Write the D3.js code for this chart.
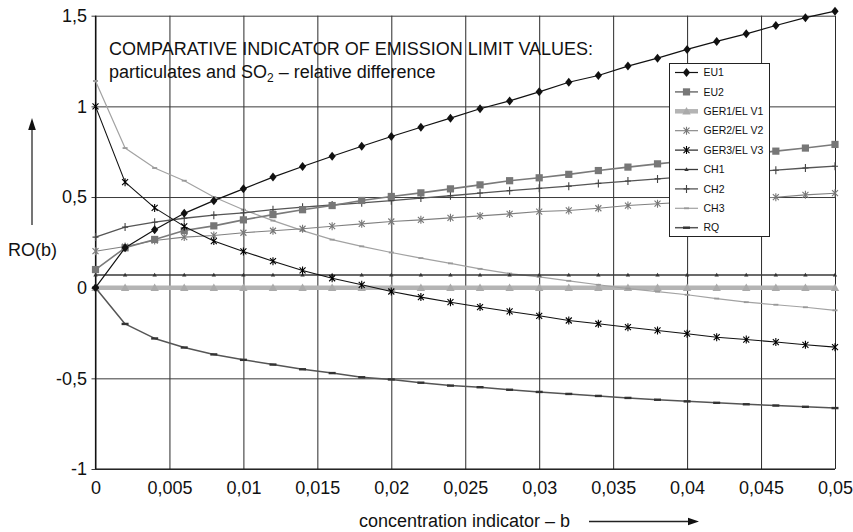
<!DOCTYPE html>
<html><head><meta charset="utf-8">
<script src="https://cdn.jsdelivr.net/npm/d3@7"></script>
<style>
html,body{margin:0;padding:0;background:#fff;}
svg{display:block;font-family:"Liberation Sans",Arial,Helvetica,sans-serif;}
</style></head>
<body><svg id="chart" width="853" height="532"></svg>
<script>
// ---------------- data ----------------
const xValues = [0, 0.002, 0.004, 0.006, 0.008, 0.010, 0.012, 0.014, 0.016, 0.018, 0.020, 0.022, 0.024,
                 0.026, 0.028, 0.030, 0.032, 0.034, 0.036, 0.038, 0.040, 0.042, 0.044, 0.046, 0.048, 0.050];
const EU1  = [0, 0.22, 0.32, 0.41, 0.48, 0.545, 0.61, 0.668, 0.725, 0.78, 0.834, 0.885, 0.935, 0.987, 1.03, 1.08,
              1.133, 1.17, 1.222, 1.266, 1.314, 1.358, 1.40, 1.446, 1.489, 1.525];
const EU2  = [0.10, 0.22, 0.266, 0.315, 0.341, 0.374, 0.403, 0.43, 0.453, 0.481, 0.503, 0.523, 0.545, 0.567, 0.59,
              0.606, 0.625, 0.646, 0.665, 0.683, 0.70, 0.718, 0.735, 0.753, 0.77, 0.79];
const GER1 = [0, 0, 0, 0, 0, 0, 0, 0, 0, 0, 0, 0, 0, 0, 0, 0, 0, 0, 0, 0, 0, 0, 0, 0, 0, 0];
const GER2 = [0.201, 0.227, 0.26, 0.279, 0.288, 0.303, 0.314, 0.325, 0.339, 0.352, 0.365, 0.374, 0.385, 0.396,
              0.407, 0.42, 0.426, 0.438, 0.453, 0.463, 0.472, 0.481, 0.49, 0.499, 0.512, 0.521];
const GER3 = [1.0, 0.582, 0.44, 0.338, 0.257, 0.20, 0.146, 0.095, 0.052, 0.016, -0.021, -0.052, -0.08, -0.107,
              -0.131, -0.155, -0.181, -0.199, -0.218, -0.236, -0.254, -0.273, -0.286, -0.30, -0.315, -0.328];
const CH1  = [0.07, 0.07, 0.07, 0.07, 0.07, 0.07, 0.07, 0.07, 0.07, 0.07, 0.07, 0.07, 0.07, 0.07, 0.07, 0.07,
              0.07, 0.07, 0.07, 0.07, 0.07, 0.07, 0.07, 0.07, 0.07, 0.07];
const CH2  = [0.279, 0.334, 0.361, 0.383, 0.40, 0.413, 0.43, 0.444, 0.456, 0.468, 0.48, 0.494, 0.507, 0.522,
              0.535, 0.548, 0.56, 0.575, 0.588, 0.60, 0.612, 0.624, 0.636, 0.648, 0.66, 0.67];
const CH3  = [1.14, 0.77, 0.66, 0.59, 0.50, 0.43, 0.37, 0.315, 0.265, 0.228, 0.194, 0.163, 0.134, 0.104, 0.078,
              0.06, 0.038, 0.016, -0.005, -0.022, -0.039, -0.06, -0.08, -0.094, -0.108, -0.125];
const RQ   = [0, -0.2, -0.28, -0.33, -0.368, -0.398, -0.424, -0.45, -0.471, -0.494, -0.506, -0.524, -0.54, -0.549,
              -0.563, -0.575, -0.586, -0.597, -0.608, -0.618, -0.627, -0.635, -0.643, -0.65, -0.657, -0.664];
const seriesNames = ["EU1", "EU2", "GER1/EL V1", "GER2/EL V2", "GER3/EL V3", "CH1", "CH2", "CH3", "RQ"];
const xTicks = [0, 0.005, 0.01, 0.015, 0.02, 0.025, 0.03, 0.035, 0.04, 0.045, 0.05];
const xTickLabels = ["0", "0,005", "0,01", "0,015", "0,02", "0,025", "0,03", "0,035", "0,04", "0,045", "0,05"];
const yTicks = [-1, -0.5, 0, 0.5, 1, 1.5];
const yTickLabels = ["-1", "-0,5", "0", "0,5", "1", "1,5"];
const titleLine1 = "COMPARATIVE INDICATOR OF EMISSION LIMIT VALUES:";
const xTitle = "concentration indicator – b";
const yTitle = "RO(b)";

// ---------------- styles ----------------
const styles = {
  "EU1":        {color:"#111", width:1.2, marker:"diamond", mcolor:"#111"},
  "EU2":        {color:"#7a7a7a", width:1.6, marker:"square", mcolor:"#777"},
  "GER1/EL V1": {color:"#b4b4b4", width:4.5, marker:"triangle", mcolor:"#aaa"},
  "GER2/EL V2": {color:"#808080", width:1.1, marker:"star", mcolor:"#777"},
  "GER3/EL V3": {color:"#111", width:1.1, marker:"star", mcolor:"#000"},
  "CH1":        {color:"#3a3a3a", width:1.3, marker:"smalltri", mcolor:"#333"},
  "CH2":        {color:"#555", width:1.3, marker:"plus", mcolor:"#444"},
  "CH3":        {color:"#a2a2a2", width:1.2, marker:"dash", mcolor:"#999"},
  "RQ":         {color:"#555", width:1.5, marker:"bar", mcolor:"#333"}
};
const seriesData = [EU1, EU2, GER1, GER2, GER3, CH1, CH2, CH3, RQ];

const svg = d3.select("#chart");
const x = d3.scaleLinear().domain([0, 0.05]).range([95.5, 835]);
const y = d3.scaleLinear().domain([-1, 1.5]).range([469, 15.7]);
const plotW = x.range()[1] - x.range()[0];
const plotH = y.range()[0] - y.range()[1];

// gridlines
const gx = svg.append("g").attr("transform", `translate(0,${y.range()[1]})`)
  .call(d3.axisBottom(x).tickValues(xTicks).tickSize(plotH).tickFormat(""));
gx.select(".domain").remove();
gx.selectAll("line").attr("stroke", "#2a2a2a").attr("stroke-width", 1);

const gy = svg.append("g").attr("transform", `translate(${x.range()[1]},0)`)
  .call(d3.axisLeft(y).tickValues(yTicks).tickSize(plotW + 4).tickFormat(""));
gy.select(".domain").remove();
gy.selectAll("line").attr("stroke", "#3a3a3a").attr("stroke-width", 1);

// frame
svg.append("line").attr("x1", x.range()[0]).attr("x2", x.range()[0]).attr("y1", y.range()[1]).attr("y2", y.range()[0])
  .attr("stroke", "#111").attr("stroke-width", 1.2);
svg.append("line").attr("x1", x.range()[0]).attr("x2", x.range()[1]).attr("y1", y.range()[0]).attr("y2", y.range()[0])
  .attr("stroke", "#111").attr("stroke-width", 1.2);

// tick labels
const ax = svg.append("g").attr("transform", `translate(0,${y.range()[0]})`)
  .call(d3.axisBottom(x).tickValues(xTicks).tickSize(0).tickPadding(12).tickFormat((d, i) => xTickLabels[i]));
ax.select(".domain").remove();
ax.selectAll("text").attr("font-size", 18).attr("fill", "#111").attr("font-family", "Liberation Sans, Arial, sans-serif");

const ay = svg.append("g").attr("transform", `translate(${x.range()[0]},0)`)
  .call(d3.axisLeft(y).tickValues(yTicks).tickSize(0).tickPadding(8.5).tickFormat((d, i) => yTickLabels[i]));
ay.select(".domain").remove();
ay.selectAll("text").attr("font-size", 18).attr("fill", "#111").attr("font-family", "Liberation Sans, Arial, sans-serif");

// markers
function markerPath(type) {
  switch (type) {
    case "diamond":  return "M0,-4.5L3.6,0L0,4.5L-3.6,0Z";
    case "square":   return "M-3.6,-3.6H3.6V3.6H-3.6Z";
    case "triangle": return "M0,-4.2L4.2,3.2H-4.2Z";
    case "star":     return "M-3,-3L3,3M-3,3L3,-3M0,-4V4";
    case "smalltri": return "M0,-2.2L2.2,1.6H-2.2Z";
    case "plus":     return "M0,-4V4M-3,0H3";
    case "dash":     return "M-2.5,0H2.5";
    case "bar":      return "M-3.5,0H3.5";
  }
}
const filled = {diamond:true, square:true, triangle:true, smalltri:true};
function drawMarker(g, type, color) {
  const p = g.append("path").attr("d", markerPath(type));
  if (filled[type]) p.attr("fill", color).attr("stroke", "none");
  else p.attr("fill", "none").attr("stroke", color).attr("stroke-width", type === "bar" ? 2.4 : (type === "dash" ? 1.8 : 1.1));
}

const line = d3.line().x(d => x(d[0])).y(d => y(d[1]));
// draw order: GER1 first (thick underlay), then others
const order = [2, 7, 5, 6, 3, 1, 8, 4, 0];
order.forEach(k => {
  const name = seriesNames[k];
  const st = styles[name];
  const pts = xValues.map((xv, i) => [xv, seriesData[k][i]]);
  const g = svg.append("g").attr("class", "series");
  g.append("path").attr("d", line(pts)).attr("fill", "none").attr("stroke", st.color)
    .attr("stroke-width", st.width).attr("stroke-linejoin", "round");
  pts.forEach(p => {
    const mg = g.append("g").attr("transform", `translate(${x(p[0])},${y(p[1])})`);
    drawMarker(mg, st.marker, st.mcolor);
  });
});

// title
const tg = svg.append("g").attr("font-size", 18).attr("fill", "#111");
tg.append("text").attr("x", 109).attr("y", 55).text(titleLine1);
const t2 = tg.append("text").attr("x", 109).attr("y", 78);
t2.append("tspan").text("particulates and SO");
t2.append("tspan").attr("font-size", 12).attr("dy", 4).text("2");
t2.append("tspan").attr("dy", -4).text(" – relative difference");

// legend
const lg = svg.append("g");
lg.append("rect").attr("x", 669.5).attr("y", 63.5).attr("width", 100).attr("height", 173)
  .attr("fill", "#fff").attr("stroke", "#222").attr("stroke-width", 1);
seriesNames.forEach((name, i) => {
  const st = styles[name];
  const cy = 72.5 + i * 19.4;
  lg.append("line").attr("x1", 675).attr("x2", 698).attr("y1", cy).attr("y2", cy)
    .attr("stroke", st.color).attr("stroke-width", st.width);
  drawMarker(lg.append("g").attr("transform", `translate(686.5,${cy})`), st.marker, st.mcolor);
  lg.append("text").attr("x", 703.5).attr("y", cy).attr("dy", "0.36em").attr("font-size", 10.5)
    .attr("fill", "#111").text(name);
});

// axis titles with arrows
svg.append("text").attr("x", 359).attr("y", 527).attr("font-size", 18).attr("fill", "#111").text(xTitle);
svg.append("line").attr("x1", 589).attr("x2", 690).attr("y1", 521.5).attr("y2", 521.5).attr("stroke", "#222").attr("stroke-width", 1.3);
svg.append("path").attr("d", "M699,521.5L688,517.8L688,525.2Z").attr("fill", "#111");

svg.append("text").attr("x", 8).attr("y", 256).attr("font-size", 18).attr("fill", "#111").text(yTitle);
svg.append("line").attr("x1", 32).attr("x2", 32).attr("y1", 225).attr("y2", 128).attr("stroke", "#666").attr("stroke-width", 1.8);
svg.append("path").attr("d", "M32,118L28.2,130L35.8,130Z").attr("fill", "#111");
</script>
</body></html>
